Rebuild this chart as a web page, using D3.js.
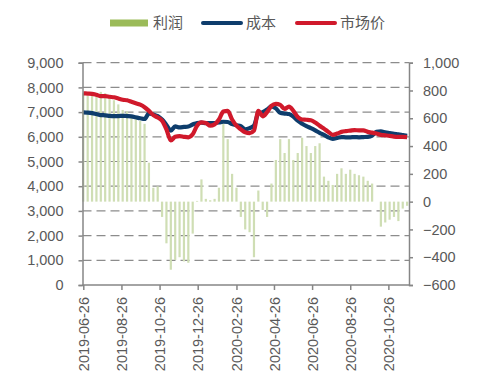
<!DOCTYPE html>
<html>
<head>
<meta charset="utf-8">
<script src="https://cdn.jsdelivr.net/npm/d3@7"></script>
<style>
  body { margin: 0; background: #fff; }
  svg text { font-family: "Liberation Sans", Arial, sans-serif; fill: #595959; }
  .legend text { font-family: "Noto Sans CJK SC", sans-serif; }
</style>
</head>
<body>
<svg id="chart" width="479" height="386"></svg>
<script>
const svg = d3.select("svg#chart");

// weekly samples starting 2019-06-26
const startDate = "2019-06-26";
const endDate = "2020-11-28";

// market price (left axis)
const price = [7760, 7750, 7740, 7700, 7650, 7650, 7620, 7600, 7550, 7500,
  7480, 7420, 7360, 7300, 7200, 7050, 6880, 6780, 6650, 6300,
  5850, 6000, 6030, 6000, 5980, 6100, 6450, 6580, 6560, 6450,
  6500, 6700, 7020, 7050, 6700, 6450, 6300, 6180, 6150, 6250,
  7050, 6830, 7000, 7250, 7330, 7290, 7130, 7220, 7050, 6800,
  6700, 6690, 6670, 6580, 6450, 6330, 6200, 6080, 6130, 6200,
  6230, 6250, 6270, 6260, 6260, 6200, 6170, 6130, 6080, 6060,
  6040, 6010, 6000, 6000, 5990];

// cost (left axis)
const cost = [6990, 6980, 6960, 6920, 6880, 6870, 6850, 6840, 6840, 6850,
  6840, 6830, 6790, 6750, 6720, 6950, 6900, 6840, 6700, 6480,
  6250, 6420, 6380, 6400, 6420, 6500, 6560, 6570, 6550, 6550,
  6560, 6580, 6610, 6600, 6520, 6470, 6430, 6300, 6350, 6450,
  6950, 7000, 7100, 7230, 7150, 6970, 6940, 6920, 6820, 6650,
  6530, 6430, 6350, 6260, 6160, 6080, 5980, 5920, 5950, 5990,
  5980, 5980, 5990, 5980, 5990, 6000, 6050, 6200, 6220, 6180,
  6150, 6120, 6100, 6070, 6040];

// profit (right axis)
const profit = [780, 760, 780, 770, 790, 780, 760, 730, 700, 660,
  650, 620, 600, 580, 560, 280, 100, 110, -110, -300,
  -490, -420, -400, -430, -440, -230, 5, 160, 20, 10,
  20, 100, 560, 450, 200, 100, -110, -200, -220, -400,
  80, -60, -110, 130, 300, 450, 350, 450, 300, 350,
  460, 400, 350, 400, 420, 180, 150, 120, 200, 240,
  200, 230, 200, 190, 180, 150, 130, 0, -180, -150,
  -130, -110, -140, -50, -30];

const xTickLabels = ["2019-06-26", "2019-08-26", "2019-10-26", "2019-12-26",
  "2020-02-26", "2020-04-26", "2020-06-26", "2020-08-26", "2020-10-26"];
const leftTicks = [0, 1000, 2000, 3000, 4000, 5000, 6000, 7000, 8000, 9000];
const rightTicks = [-600, -400, -200, 0, 200, 400, 600, 800, 1000];

const seriesNames = ["利润", "成本", "市场价"];
const colors = { bar: "#cfdeb4", legendBar: "#9bbb59", cost: "#0e3d6c", price: "#d0192b" };

const parse = d3.utcParse("%Y-%m-%d");
const dates = d3.utcDay.range(parse(startDate), parse(endDate), 7).slice(0, price.length);

const plotLeft = 82.5, plotRight = 409, plotTop = 62.7, plotBottom = 285;

const x = d3.scaleUtc().domain([parse(startDate), parse(endDate)]).range([83.3, plotRight]);
const yL = d3.scaleLinear().domain([0, 9000]).range([plotBottom, plotTop]);
const yR = d3.scaleLinear().domain([-600, 1000]).range([plotBottom, plotTop]);

// gridlines
svg.append("g")
  .selectAll("line")
  .data(leftTicks.slice(1))
  .join("line")
  .attr("x1", plotLeft).attr("x2", plotRight)
  .attr("y1", d => yL(d)).attr("y2", d => yL(d))
  .attr("stroke", "#8c8c8c")
  .attr("stroke-width", 1.2)
  .attr("stroke-dasharray", "9,5");

// profit bars
const barW = 2.2;
svg.append("g")
  .selectAll("rect")
  .data(profit)
  .join("rect")
  .attr("x", (d, i) => x(dates[i]) - barW / 2)
  .attr("width", barW)
  .attr("y", d => Math.min(yR(d), yR(0)))
  .attr("height", d => Math.abs(yR(d) - yR(0)))
  .attr("fill", colors.bar);

// lines
const line = d3.line()
  .x((d, i) => x(dates[i]))
  .y(d => yL(d))
  .curve(d3.curveMonotoneX);

svg.append("path")
  .datum(cost)
  .attr("d", line)
  .attr("fill", "none")
  .attr("stroke", colors.cost)
  .attr("stroke-width", 4.2)
  .attr("stroke-linejoin", "round");

svg.append("path")
  .datum(price)
  .attr("d", line)
  .attr("fill", "none")
  .attr("stroke", colors.price)
  .attr("stroke-width", 4.2)
  .attr("stroke-linejoin", "round");

// axes
const axisColor = "#868686";
const leftAxis = svg.append("g")
  .attr("transform", `translate(${plotLeft},0)`)
  .call(d3.axisLeft(yL).tickValues(leftTicks).tickSize(4).tickPadding(15).tickFormat(d3.format(",")));
const rightAxis = svg.append("g")
  .attr("transform", `translate(${plotRight},0)`)
  .call(d3.axisRight(yR).tickValues(rightTicks).tickSize(4).tickPadding(10).tickFormat(d3.format(",")));
const bottomAxis = svg.append("g")
  .attr("transform", `translate(0,${plotBottom})`)
  .call(d3.axisBottom(x).tickValues(xTickLabels.map(parse)).tickSize(5).tickFormat(d3.utcFormat("%Y-%m-%d")));

bottomAxis.select(".domain").attr("d", `M${plotLeft},0H${plotRight}`);

[leftAxis, rightAxis, bottomAxis].forEach(a => {
  a.select(".domain").attr("stroke", axisColor).attr("stroke-width", 1.5);
  a.selectAll(".tick line").attr("stroke", axisColor).attr("stroke-width", 1.5);
  a.selectAll("text").attr("font-size", 14.5).attr("fill", "#595959")
    .style("font-family", "'Liberation Sans', Arial, sans-serif");
});

bottomAxis.selectAll("text")
  .attr("transform", "rotate(-90)")
  .attr("text-anchor", "end")
  .attr("x", -12)
  .attr("y", 0)
  .attr("dy", "0.35em");

// legend
const legend = svg.append("g").attr("class", "legend");
const legendItems = [
  { name: seriesNames[0], type: "bar", color: colors.legendBar, x: 110 },
  { name: seriesNames[1], type: "line", color: colors.cost, x: 203 },
  { name: seriesNames[2], type: "line", color: colors.price, x: 297 }
];
legendItems.forEach(it => {
  if (it.type === "bar") {
    legend.append("rect").attr("x", it.x).attr("y", 19.5).attr("width", 38).attr("height", 7).attr("fill", it.color);
  } else {
    legend.append("line").attr("x1", it.x).attr("x2", it.x + 38).attr("y1", 23).attr("y2", 23)
      .attr("stroke", it.color).attr("stroke-width", 4).attr("stroke-linecap", "round");
  }
  legend.append("text").attr("x", it.x + 43).attr("y", 23).attr("dy", "0.35em")
    .attr("font-size", 15).text(it.name);
});
</script>
</body>
</html>
